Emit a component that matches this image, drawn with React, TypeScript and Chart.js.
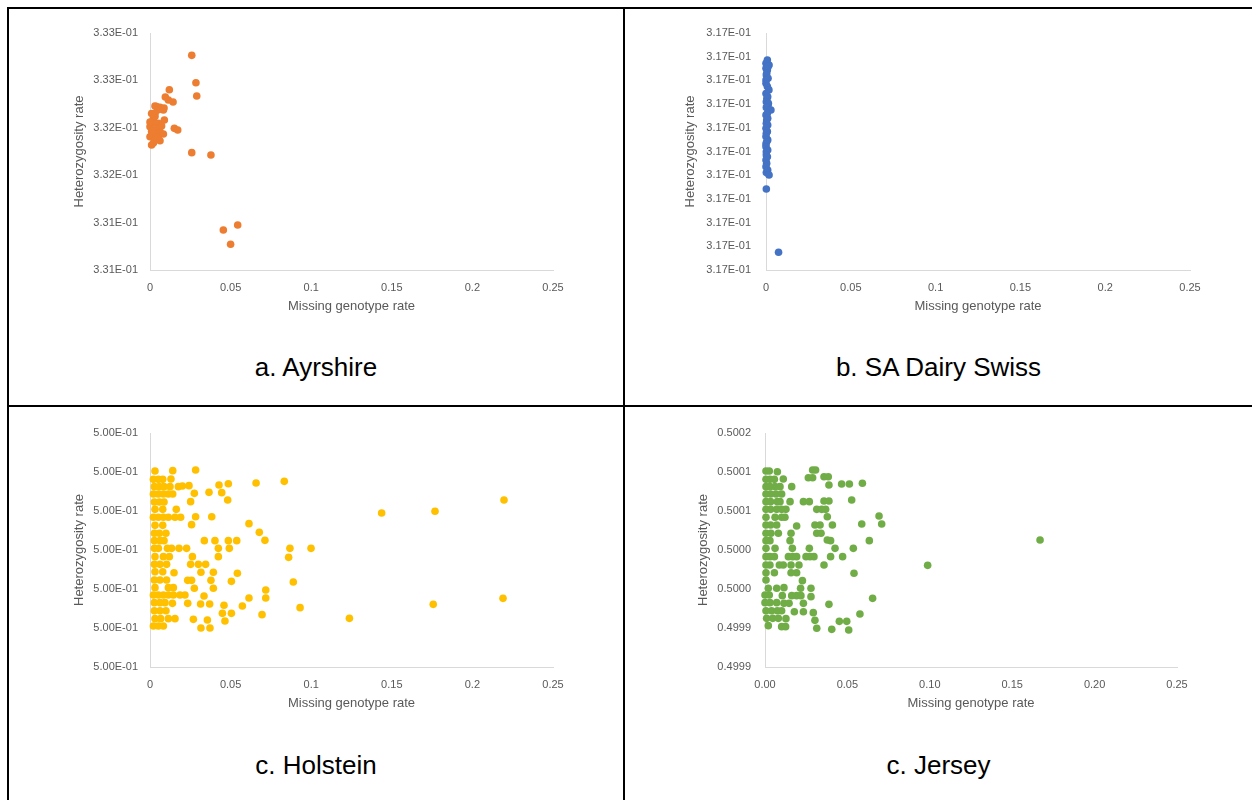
import { useEffect, useRef } from 'react';
import { Chart, registerables } from 'chart.js';

Chart.register(...registerables);

// ---------- data ----------
const X_TICKS = [0, 0.05, 0.1, 0.15, 0.2, 0.25];

const AYR_Y_TICKS = [0.3306, 0.3311, 0.3316, 0.3321, 0.3326, 0.3331];
const AYR_X = [
  0.0259, 0.0285, 0.029, 0.012, 0.0095, 0.0114, 0.0143, 0.0041, 0.0087, 0.0062,
  0.0031, 0.0083, 0.0021, 0.0089, 0.001, 0.0052, 0.0, 0.0041, 0.0021, 0.0062,
  0.0083, 0.0, 0.0052, 0.001, 0.0031, 0.0062, 0.0151, 0.0172, 0.0259, 0.0378,
  0.0455, 0.0544, 0.05, 0.0031, 0.001, 0.0041, 0.0021, 0.0052, 0.0, 0.0072,
  0.0031, 0.001,
];
const AYR_Y = [
  0.332864, 0.332576, 0.332435, 0.332502, 0.332425, 0.332393, 0.332372, 0.332323, 0.332309, 0.332316,
  0.332253, 0.332288, 0.3322, 0.332182, 0.332147, 0.332147, 0.332112, 0.332094, 0.332042, 0.332059,
  0.332035, 0.332006, 0.331989, 0.331919, 0.331971, 0.331964, 0.332094, 0.332077, 0.331838, 0.331813,
  0.331022, 0.331075, 0.330871, 0.33222, 0.33206, 0.332, 0.33194, 0.33229, 0.33216, 0.33212,
  0.33233, 0.33225,
];

const SWISS_Y_TICKS = [
  0.3169, 0.31691, 0.31692, 0.31693, 0.31694, 0.31695, 0.31696, 0.31697, 0.31698, 0.31699, 0.317,
];
const SWISS_X = [
  0.0008, 0, 0.0018, 0, 0.0008, 0.0012, 0.0004, 0.0002, 0.0012, 0,
  0, 0.0008, 0.0017, 0, 0.001, 0.0005, 0.0002, 0.0014, 0.0012, 0.0002,
  0.0029, 0.0008, 0, 0.001, 0.0004, 0.0002, 0.001, 0, 0.0008, 0.0002,
  0, 0.001, 0.0004, 0, 0, 0.001, 0.0002, 0.0002, 0.0008, 0,
  0.0004, 0, 0.001, 0.0002, 0.0018, 0.0002, 0.0074,
];
const SWISS_Y = [
  0.3169886, 0.3169872, 0.3169865, 0.3169851, 0.3169844, 0.3169858, 0.316983, 0.3169823, 0.3169809, 0.3169802,
  0.3169788, 0.3169774, 0.316976, 0.3169745, 0.3169731, 0.3169724, 0.316971, 0.3169703, 0.3169696, 0.3169686,
  0.3169675, 0.3169661, 0.3169654, 0.316964, 0.3169633, 0.3169619, 0.3169612, 0.3169598, 0.3169584, 0.3169577,
  0.3169563, 0.3169549, 0.3169541, 0.3169532, 0.316952, 0.3169506, 0.3169499, 0.3169485, 0.3169478, 0.3169464,
  0.316945, 0.3169436, 0.3169422, 0.3169411, 0.3169401, 0.3169342, 0.3169075,
];

const HOL_Y_TICKS = [0.4999, 0.49995, 0.5, 0.50005, 0.5001, 0.50015, 0.5002];
const HOL_X = [
  0.0031, 0.0141, 0.0283,
  0.0021, 0.0052, 0.0079, 0.013,
  0.0428, 0.0486, 0.0658, 0.0833,
  0.0027, 0.0058, 0.0087, 0.0124, 0.0176, 0.0201, 0.0242,
  0.0021, 0.0052, 0.0083, 0.0114, 0.0141, 0.0275, 0.0366, 0.0445,
  0.0482, 0.0252,
  0.0027, 0.0058, 0.0087,
  0.0031, 0.0079, 0.0163,
  0.1437,
  0.0021, 0.0052, 0.0083, 0.0114, 0.0155, 0.019, 0.0283, 0.0383,
  0.0258, 0.0031, 0.0079, 0.0614,
  0.0027, 0.0058, 0.0099, 0.0678,
  0.0027, 0.0062, 0.0087, 0.0337, 0.0403, 0.0486, 0.0538, 0.0713,
  0.0027, 0.0052, 0.0108, 0.0134, 0.018, 0.0227, 0.0424, 0.0492, 0.0868, 0.0999,
  0.0031, 0.0083, 0.012, 0.0263, 0.0424, 0.086,
  0.0027, 0.0062, 0.0103, 0.0252, 0.03, 0.0345,
  0.0031, 0.0079, 0.0149, 0.0316, 0.0393, 0.0542,
  0.0027, 0.0062, 0.0103, 0.0234, 0.0258, 0.0378, 0.0505, 0.0889,
  0.0031, 0.0114, 0.0145, 0.0275, 0.0393, 0.0718,
  0.0021, 0.0052, 0.0083, 0.0114, 0.0145, 0.0186, 0.0217, 0.0335, 0.0614, 0.0718,
  0.0027, 0.0062, 0.0093, 0.0139, 0.0234, 0.0314, 0.037, 0.0459, 0.0573,
  0.0027, 0.0062, 0.0099, 0.0449, 0.0505, 0.0695, 0.0931,
  0.0031, 0.0066, 0.0114, 0.0155, 0.0269, 0.0356, 0.0465, 0.1237,
  0.0021, 0.0052, 0.0083, 0.0316, 0.0372,
  0.1768, 0.2196, 0.1757, 0.219,
];
const HOL_Y = [
  0.5001513, 0.5001517, 0.5001526,
  0.5001406, 0.5001406, 0.5001406, 0.500141,
  0.5001333, 0.500135, 0.5001359, 0.500138,
  0.5001312, 0.5001312, 0.5001312, 0.5001312, 0.5001312, 0.500132, 0.5001325,
  0.5001218, 0.5001218, 0.5001218, 0.5001218, 0.5001218, 0.5001226, 0.5001239, 0.5001235,
  0.5001141, 0.500112,
  0.5001115, 0.5001115, 0.5001115,
  0.5001021, 0.5001021, 0.5001021,
  0.5000974,
  0.5000919, 0.5000919, 0.5000919, 0.5000919, 0.5000919, 0.5000919, 0.5000927, 0.5000927,
  0.5000825, 0.5000816, 0.5000816, 0.5000838,
  0.5000714, 0.5000714, 0.5000714, 0.5000726,
  0.500062, 0.500062, 0.500062, 0.500062, 0.500062, 0.500062, 0.500062, 0.5000624,
  0.5000521, 0.5000521, 0.5000521, 0.5000521, 0.5000521, 0.5000521, 0.5000521, 0.5000521, 0.5000521, 0.5000521,
  0.5000415, 0.5000415, 0.5000415, 0.5000415, 0.5000415, 0.5000406,
  0.5000316, 0.5000316, 0.5000316, 0.5000316, 0.5000316, 0.5000316,
  0.5000222, 0.5000222, 0.5000209, 0.5000214, 0.5000214, 0.5000201,
  0.5000115, 0.5000115, 0.5000115, 0.5000111, 0.5000111, 0.5000111, 0.5000098, 0.500009,
  0.5000017, 0.5000017, 0.5000017, 0.5000009, 0.5000009, 0.4999987,
  0.4999923, 0.4999923, 0.4999923, 0.4999923, 0.4999923, 0.4999923, 0.4999923, 0.499991, 0.4999885, 0.4999885,
  0.4999825, 0.4999825, 0.4999825, 0.4999816, 0.4999816, 0.4999808, 0.4999808, 0.4999791, 0.4999782,
  0.4999722, 0.4999722, 0.4999722, 0.4999688, 0.4999688, 0.4999671, 0.4999761,
  0.499962, 0.499962, 0.499962, 0.499962, 0.4999611, 0.4999603, 0.499959, 0.4999624,
  0.4999526, 0.4999526, 0.4999526, 0.49995, 0.49995,
  0.5000996, 0.5001141, 0.4999803, 0.499988,
];

const JER_Y_TICKS = [0.49988, 0.49993, 0.49998, 0.50003, 0.50008, 0.50013, 0.50018];
const JER_X = [
  0.0006, 0.0026, 0.0075, 0.0289, 0.0307,
  0.0006, 0.003, 0.0057, 0.0111, 0.0263, 0.0289, 0.0358, 0.0384,
  0.0388, 0.0465, 0.0512, 0.0591,
  0.0006, 0.003, 0.0061, 0.0091, 0.0162,
  0.0006, 0.0034, 0.0067, 0.0101,
  0.0006, 0.0034, 0.0075, 0.0091, 0.0152, 0.0233, 0.0269, 0.0358, 0.0388, 0.0526,
  0.0006, 0.0034, 0.0071, 0.0101, 0.0127, 0.0314, 0.0344, 0.0368,
  0.0006, 0.0061, 0.0101, 0.0121, 0.0378, 0.0692,
  0.0006, 0.0034, 0.0071, 0.0303, 0.0334, 0.0409, 0.0192, 0.0587, 0.0708,
  0.0006, 0.0036, 0.0081, 0.0158, 0.0314, 0.034,
  0.0006, 0.003, 0.0152, 0.0398, 0.0633, 0.0378,
  0.0006, 0.0061, 0.0166, 0.0269, 0.0425, 0.0536,
  0.0006, 0.003, 0.0057, 0.0142, 0.0168, 0.0192, 0.0249, 0.0273, 0.0297, 0.0398, 0.0471,
  0.0006, 0.003, 0.0087, 0.0111, 0.0158, 0.0206, 0.0358, 0.0987,
  0.0006, 0.0057, 0.0158, 0.0192, 0.054,
  0.0006, 0.0227,
  0.002, 0.0071, 0.0216, 0.0279, 0.0115,
  0.0, 0.0026, 0.0105, 0.0162, 0.0192, 0.0218, 0.0279, 0.0653,
  0.0, 0.003, 0.0071, 0.0115, 0.0146, 0.0233, 0.0388,
  0.0006, 0.004, 0.0075, 0.0101, 0.0178, 0.0233, 0.0293, 0.0576,
  0.001, 0.0047, 0.0081, 0.0127, 0.0303, 0.0451, 0.0496,
  0.002, 0.0101, 0.0125, 0.0314, 0.0405, 0.0508,
  0.1669,
];
const JER_Y = [
  0.5001313, 0.5001313, 0.5001304, 0.5001326, 0.5001326,
  0.5001206, 0.5001206, 0.5001206, 0.500121, 0.5001227, 0.5001227, 0.500124, 0.500124,
  0.5001133, 0.5001146, 0.5001146, 0.5001155,
  0.5001112, 0.5001112, 0.5001112, 0.5001112, 0.5001112,
  0.5001018, 0.5001018, 0.5001018, 0.5001018,
  0.500092, 0.500092, 0.500092, 0.500092, 0.500092, 0.500092, 0.500092, 0.5000928, 0.5000928, 0.5000941,
  0.5000821, 0.5000821, 0.5000821, 0.5000821, 0.5000821, 0.5000821, 0.5000821, 0.5000821,
  0.5000719, 0.5000719, 0.5000719, 0.5000719, 0.5000727, 0.5000736,
  0.500062, 0.500062, 0.500062, 0.500062, 0.500062, 0.500062, 0.5000608, 0.5000633, 0.5000633,
  0.5000514, 0.5000514, 0.5000514, 0.5000514, 0.5000514, 0.5000514,
  0.500042, 0.500042, 0.500042, 0.500042, 0.500042, 0.5000428,
  0.5000321, 0.5000321, 0.5000321, 0.5000321, 0.5000321, 0.5000321,
  0.5000215, 0.5000215, 0.5000215, 0.5000215, 0.5000215, 0.5000215, 0.5000215, 0.5000215, 0.5000215, 0.5000215, 0.5000215,
  0.5000108, 0.5000108, 0.5000108, 0.5000108, 0.5000108, 0.5000108, 0.5000108, 0.5000103,
  0.5000009, 0.5000009, 0.5000009, 0.5000009, 0.5000001,
  0.4999915, 0.4999907,
  0.4999809, 0.4999809, 0.4999809, 0.4999809, 0.4999817,
  0.4999723, 0.4999723, 0.4999715, 0.4999715, 0.4999715, 0.4999715, 0.4999702, 0.499968,
  0.4999625, 0.4999625, 0.4999625, 0.4999616, 0.4999616, 0.4999616, 0.4999603,
  0.4999522, 0.4999522, 0.4999522, 0.4999522, 0.4999509, 0.4999509, 0.4999497, 0.4999479,
  0.4999424, 0.4999424, 0.4999424, 0.499942, 0.4999398, 0.4999385, 0.4999385,
  0.499933, 0.4999317, 0.4999317, 0.4999296, 0.4999283, 0.4999274,
  0.5000428,
];

// ---------- formatting ----------
const sci = (v: number) => {
  const [m, e] = v.toExponential(2).split('e');
  const n = parseInt(e, 10);
  return m + 'E' + (n < 0 ? '-' : '+') + String(Math.abs(n)).padStart(2, '0');
};
const general = (v: number) => String(Math.round(v * 100) / 100);
const fixed2 = (v: number) => v.toFixed(2);
const fixed4 = (v: number) => v.toFixed(4);

const FONT = "'Liberation Sans', Arial, sans-serif";
const TEXT = '#595959';

type Panel = {
  caption: string;
  color: string;
  xs: number[];
  ys: number[];
  yTicks: number[];
  yFmt: (v: number) => string;
  xFmt: (v: number) => string;
  canvas: { left: number; top: number; w: number; h: number };
  area: { l: number; t: number; r: number; b: number };
  yBoxLeft: number;
  yPad: number;
};

const PANELS: Panel[] = [
  {
    caption: 'a. Ayrshire', color: '#ED7D31', xs: AYR_X, ys: AYR_Y, yTicks: AYR_Y_TICKS,
    yFmt: sci, xFmt: general,
    canvas: { left: 9, top: 9, w: 614, h: 330 }, area: { l: 150, t: 33, r: 553, b: 270 }, yBoxLeft: 72, yPad: 12,
  },
  {
    caption: 'b. SA Dairy Swiss', color: '#4472C4', xs: SWISS_X, ys: SWISS_Y, yTicks: SWISS_Y_TICKS,
    yFmt: sci, xFmt: general,
    canvas: { left: 625, top: 9, w: 627, h: 330 }, area: { l: 766, t: 33, r: 1190, b: 270 }, yBoxLeft: 683, yPad: 15,
  },
  {
    caption: 'c. Holstein', color: '#FFC000', xs: HOL_X, ys: HOL_Y, yTicks: HOL_Y_TICKS,
    yFmt: sci, xFmt: general,
    canvas: { left: 9, top: 407, w: 614, h: 330 }, area: { l: 150, t: 433, r: 553, b: 667 }, yBoxLeft: 72, yPad: 12,
  },
  {
    caption: 'c. Jersey', color: '#70AD47', xs: JER_X, ys: JER_Y, yTicks: JER_Y_TICKS,
    yFmt: fixed4, xFmt: fixed2,
    canvas: { left: 625, top: 407, w: 627, h: 330 }, area: { l: 765, t: 433, r: 1177, b: 667 }, yBoxLeft: 696, yPad: 14,
  },
];

function buildConfig(p: Panel): any {
  const X_AXIS_H = 44;
  const padLeft = p.yBoxLeft - p.canvas.left;
  const yWidth = p.area.l - p.yBoxLeft;
  const padTop = p.area.t - p.canvas.top;
  const padRight = p.canvas.left + p.canvas.w - p.area.r;
  const padBottom = p.canvas.top + p.canvas.h - p.area.b - X_AXIS_H;
  const tickFont = { family: FONT, size: 11 };
  const titleFont = { family: FONT, size: 13 };
  return {
    type: 'scatter',
    data: {
      datasets: [
        {
          data: p.xs.map((x, i) => ({ x, y: p.ys[i] })),
          backgroundColor: p.color,
          borderColor: p.color,
          pointRadius: 3.8,
          pointHoverRadius: 3.8,
          pointBorderWidth: 0,
          clip: false,
        },
      ],
    },
    options: {
      responsive: false,
      animation: false,
      events: [],
      layout: { padding: { left: padLeft, top: padTop, right: padRight, bottom: padBottom } },
      plugins: { legend: { display: false }, tooltip: { enabled: false } },
      scales: {
        x: {
          type: 'linear',
          position: 'bottom',
          min: 0,
          max: 0.25,
          grid: { display: false, drawTicks: false },
          border: { display: true, color: '#D9D9D9', width: 1 },
          ticks: { padding: 11, font: tickFont, color: TEXT, autoSkip: false, maxRotation: 0, callback: (v: number) => p.xFmt(v) },
          title: { display: true, text: 'Missing genotype rate', font: titleFont, color: TEXT, padding: 0 },
          afterBuildTicks: (s: any) => {
            s.ticks = X_TICKS.map((v) => ({ value: v }));
          },
          afterFit: (s: any) => {
            s.height = X_AXIS_H;
            s.paddingLeft = 0;
            s.paddingRight = 0;
          },
        },
        y: {
          type: 'linear',
          position: 'left',
          min: p.yTicks[0],
          max: p.yTicks[p.yTicks.length - 1],
          grid: { display: false, drawTicks: false },
          border: { display: true, color: '#D9D9D9', width: 1 },
          ticks: { padding: p.yPad, font: tickFont, color: TEXT, autoSkip: false, callback: (v: number) => p.yFmt(v) },
          title: { display: true, text: 'Heterozygosity rate', font: titleFont, color: TEXT, padding: 0 },
          afterBuildTicks: (s: any) => {
            s.ticks = p.yTicks.map((v) => ({ value: v }));
          },
          afterFit: (s: any) => {
            s.width = yWidth;
            s.paddingTop = 0;
            s.paddingBottom = 0;
          },
        },
      },
    },
  };
}

function PanelChart({ p }: { p: Panel }) {
  const ref = useRef<HTMLCanvasElement | null>(null);
  useEffect(() => {
    if (!ref.current) return;
    const chart = new Chart(ref.current, buildConfig(p));
    return () => chart.destroy();
  }, [p]);
  return (
    <canvas
      ref={ref}
      width={p.canvas.w}
      height={p.canvas.h}
      style={{ position: 'absolute', left: p.canvas.left, top: p.canvas.top, width: p.canvas.w, height: p.canvas.h }}
    />
  );
}

export default function App() {
  const line = (left: number, top: number, width: number, height: number) => (
    <div style={{ position: 'absolute', left, top, width, height, background: '#000' }} />
  );
  return (
    <div style={{ position: 'absolute', left: 0, top: 0, width: 1252, height: 800, background: '#fff', overflow: 'hidden' }}>
      {PANELS.map((p) => (
        <PanelChart key={p.caption} p={p} />
      ))}
      {PANELS.map((p) => (
        <div
          key={'cap' + p.caption}
          style={{
            position: 'absolute',
            left: p.canvas.left,
            width: p.canvas.w,
            top: p.canvas.top + 343,
            fontFamily: FONT,
            fontSize: 26,
            lineHeight: '30px',
            textAlign: 'center',
            color: '#000',
            whiteSpace: 'nowrap',
          }}
        >
          {p.caption}
        </div>
      ))}
      {line(7, 7, 1245, 2)}
      {line(7, 7, 2, 793)}
      {line(623, 7, 2, 793)}
      {line(7, 405, 1245, 2)}
    </div>
  );
}
